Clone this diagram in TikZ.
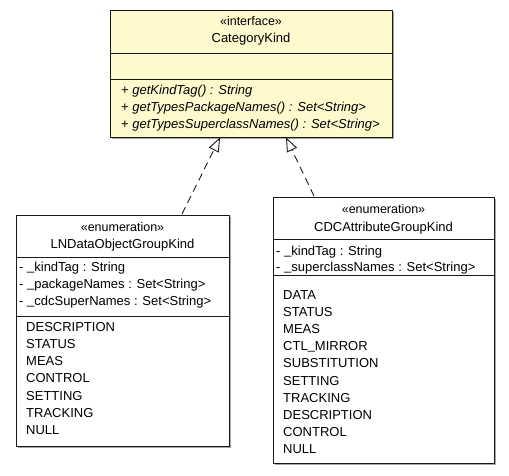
\documentclass[tikz,border=0pt]{standalone}
\usepackage{fontspec}
\setmainfont{Liberation Sans}
\usetikzlibrary{arrows.meta}
\definecolor{ifill}{RGB}{255,249,206}
\definecolor{edgecol}{RGB}{25,25,25}
\definecolor{shadecol}{RGB}{165,165,165}
% underscore sitting close to the baseline
\newcommand{\usc}{\raisebox{1.2pt}{\_}}
\begin{document}
\begin{tikzpicture}[x=1pt,y=-1pt,
  classbox/.style={draw=edgecol, line width=1pt, inner sep=0pt, anchor=north west},
  shadowbox/.style={fill=shadecol, draw=none, inner sep=0pt, anchor=north west},
  txt/.style={inner sep=0pt, anchor=base west, font=\fontsize{13}{15}\selectfont},
  ctxt/.style={inner sep=0pt, anchor=base, font=\fontsize{12.5}{15}\selectfont},
  divider/.style={draw=edgecol, line width=1pt},
  realize/.style={draw=edgecol, line width=0.9pt, dash pattern=on 7.5pt off 5pt,
    -{Triangle[open, length=14pt, width=11pt, line width=0.9pt]}}
]
\useasboundingbox (0,0) rectangle (509,475);

% ---- interface CategoryKind ----
\node[shadowbox, minimum width=282pt, minimum height=127pt] at (112,12) {};
\node[classbox, fill=ifill, minimum width=282pt, minimum height=127pt] (kind) at (110,10) {};
\draw[divider] ([yshift=-43pt]kind.north west) -- ([yshift=-43pt]kind.north east);
\draw[divider] ([yshift=-69pt]kind.north west) -- ([yshift=-69pt]kind.north east);
\node[ctxt] (kindst) at (251,25) {«interface»};
\node[ctxt, font=\fontsize{13}{15}\selectfont] (kindnm) at (251,42) {CategoryKind};
\node[txt] (km1) at (121,94)  {+ \textit{getKindTag() : String}};
\node[txt] (km2) at (121,111) {+ \textit{getTypesPackageNames() : Set<String>}};
\node[txt] (km3) at (121,128) {+ \textit{getTypesSuperclassNames() : Set<String>}};

% ---- enumeration LNDataObjectGroupKind ----
\node[shadowbox, minimum width=213pt, minimum height=231pt] at (18,217) {};
\node[classbox, fill=white, minimum width=213pt, minimum height=231pt] (ln) at (16,215) {};
\draw[divider] ([yshift=-42pt]ln.north west) -- ([yshift=-42pt]ln.north east);
\draw[divider] ([yshift=-101pt]ln.north west) -- ([yshift=-101pt]ln.north east);
\node[ctxt] (lnst) at (122.5,231) {«enumeration»};
\node[ctxt, font=\fontsize{13}{15}\selectfont] (lnnm) at (122.5,248) {LNDataObjectGroupKind};
\node[txt] (lna1) at (19,271.5) {- \usc kindTag : String};
\node[txt] (lna2) at (19,288.5) {- \usc packageNames : Set<String>};
\node[txt] (lna3) at (19,305.5) {- \usc cdcSuperNames : Set<String>};
\node[txt] (lne1) at (26,331)   {DESCRIPTION};
\node[txt] (lne2) at (26,348.3) {STATUS};
\node[txt] (lne3) at (26,365.6) {MEAS};
\node[txt] (lne4) at (26,382.9) {CONTROL};
\node[txt] (lne5) at (26,400.2) {SETTING};
\node[txt] (lne6) at (26,417.5) {TRACKING};
\node[txt] (lne7) at (26,434.8) {NULL};

% ---- enumeration CDCAttributeGroupKind ----
\node[shadowbox, minimum width=221pt, minimum height=266pt] at (275,199) {};
\node[classbox, fill=white, minimum width=221pt, minimum height=266pt] (cdc) at (273,197) {};
\draw[divider] ([yshift=-42pt]cdc.north west) -- ([yshift=-42pt]cdc.north east);
\draw[divider] ([yshift=-78pt]cdc.north west) -- ([yshift=-78pt]cdc.north east);
\node[ctxt] (cdcst) at (383.5,213) {«enumeration»};
\node[ctxt, font=\fontsize{13}{15}\selectfont] (cdcnm) at (383.5,231) {CDCAttributeGroupKind};
\node[txt] (cda1) at (276,255.5) {- \usc kindTag : String};
\node[txt] (cda2) at (276,271.5) {- \usc superclassNames : Set<String>};
\node[txt] (cde1)  at (283,299)   {DATA};
\node[txt] (cde2)  at (283,316.2) {STATUS};
\node[txt] (cde3)  at (283,333.4) {MEAS};
\node[txt] (cde4)  at (283,350.6) {CTL\usc MIRROR};
\node[txt] (cde5)  at (283,367.8) {SUBSTITUTION};
\node[txt] (cde6)  at (283,385)   {SETTING};
\node[txt] (cde7)  at (283,402.2) {TRACKING};
\node[txt] (cde8)  at (283,419.4) {DESCRIPTION};
\node[txt] (cde9)  at (283,436.6) {CONTROL};
\node[txt] (cde10) at (283,453.8) {NULL};

% ---- realizations ----
\coordinate (lnfrom) at (182,214);
\coordinate (lnto) at (220,137.5);
\coordinate (cdcfrom) at (314,196);
\coordinate (cdcto) at (286,137.5);
\draw[realize] (lnfrom) -- (lnto);
\draw[realize] (cdcfrom) -- (cdcto);
\end{tikzpicture}
\end{document}
